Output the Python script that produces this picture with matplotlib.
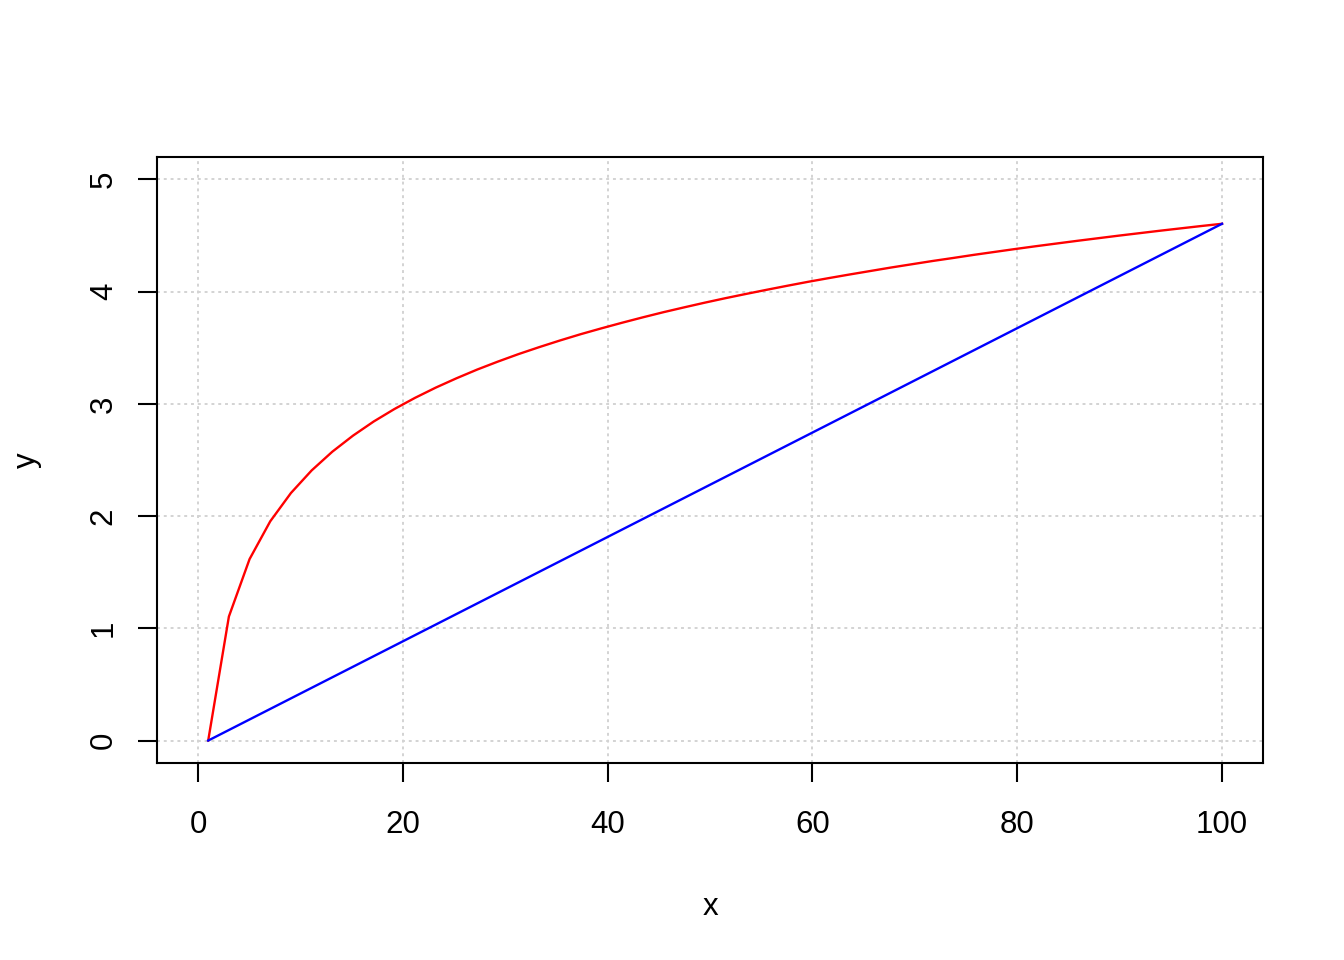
import matplotlib.pyplot as plt

plt.rcParams['font.family'] = ['Liberation Sans', 'DejaVu Sans']

# values
x_red = [1.00, 3.02, 5.04, 7.06, 9.08, 11.10, 13.12, 15.14, 17.16, 19.18,
         21.20, 23.22, 25.24, 27.27, 29.29, 31.31, 33.33, 35.35, 37.37, 39.39,
         41.41, 43.43, 45.45, 47.47, 49.49, 51.51, 53.53, 55.55, 57.57, 59.59,
         61.61, 63.63, 65.65, 67.67, 69.69, 71.71, 73.73, 75.76, 77.78, 79.80,
         81.82, 83.84, 85.86, 87.88, 89.90, 91.92, 93.94, 95.96, 97.98, 100.00]
y_red = [0.000, 1.105, 1.617, 1.954, 2.206, 2.407, 2.574, 2.717, 2.843, 2.954,
         3.054, 3.145, 3.228, 3.306, 3.377, 3.444, 3.506, 3.565, 3.621, 3.673,
         3.723, 3.771, 3.817, 3.860, 3.902, 3.942, 3.980, 4.017, 4.053, 4.088,
         4.121, 4.153, 4.184, 4.215, 4.244, 4.273, 4.300, 4.328, 4.354, 4.380,
         4.405, 4.429, 4.453, 4.476, 4.499, 4.521, 4.543, 4.564, 4.585, 4.605]
x_blue = [1.0, 100.0]
y_blue = [0.0, 4.605]

x_ticks = [0, 20, 40, 60, 80, 100]
y_ticks = [0, 1, 2, 3, 4, 5]

fig = plt.figure(figsize=(13.44, 9.6), dpi=100)
ax = fig.add_axes([157 / 1344, 1 - 763 / 960, (1263 - 157) / 1344, (763 - 157) / 960])

# grid like R's grid()
for t in x_ticks:
    ax.axvline(t, color='lightgray', lw=1.4, ls=(0, (1.5, 2)), zorder=1)
for t in y_ticks:
    ax.axhline(t, color='lightgray', lw=1.4, ls=(0, (1.5, 2)), zorder=1)

ax.plot(x_red, y_red, color='red', lw=1.7, zorder=3)
ax.plot(x_blue, y_blue, color='blue', lw=1.7, zorder=3)

ax.set_xlim(-4, 104)
ax.set_ylim(-0.2, 5.2)
ax.set_xticks(x_ticks)
ax.set_yticks(y_ticks)
ax.set_yticklabels([str(t) for t in y_ticks], rotation=90, va='center')
ax.tick_params(length=13.5, width=1.5, labelsize=22.5, pad=20)
ax.tick_params(axis='y', pad=14)
for s in ax.spines.values():
    s.set_linewidth(1.5)

ax.set_xlabel('x', fontsize=22.5, labelpad=38)
ax.set_ylabel('y', fontsize=22.5, labelpad=34)

fig.savefig('out.png', dpi=100)
